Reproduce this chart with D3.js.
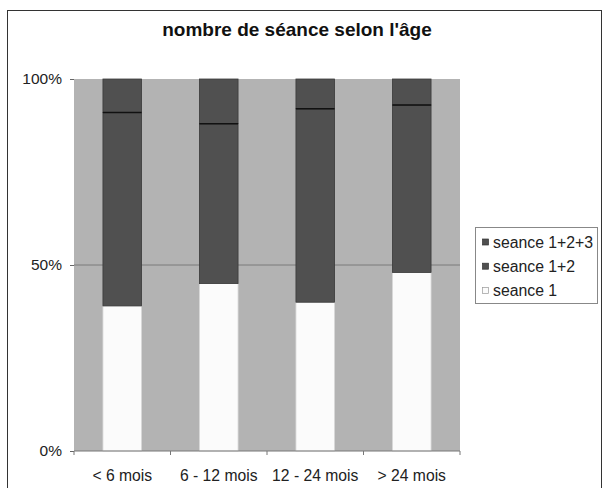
<!DOCTYPE html>
<html><head><meta charset="utf-8">
<script src="https://cdn.jsdelivr.net/npm/d3@7"></script>
<style>body{margin:0;background:#fff;} text{font-family:"Liberation Sans",Arial,sans-serif;}</style>
</head><body>
<svg id="c" width="605" height="488"></svg>
<script>
const categories = ["< 6 mois", "6 - 12 mois", "12 - 24 mois", "> 24 mois"];
const seriesNames = ["seance 1", "seance 1+2", "seance 1+2+3"];
const seance1 = [39, 45, 40, 48];
const seance12 = [52, 43, 52, 45];
const seance123 = [9, 12, 8, 7];
const yTicks = [0, 50, 100];
const colors = ["#fbfbfb", "#505050", "#505050"];

const svg = d3.select("#c");
svg.append("rect").attr("x",7.5).attr("y",10.5).attr("width",594).attr("height",490)
  .attr("fill","#fff").attr("stroke","#333").attr("stroke-width",1);

const m = {l:74, r:460, t:79, b:451};
const x = d3.scaleBand().domain(categories).range([m.l, m.r]).paddingInner(0.6).paddingOuter(0.3);
const xb = d3.scaleBand().domain(categories).range([m.l, m.r]);
const y = d3.scaleLinear().domain([0,100]).range([m.b, m.t]);

svg.append("rect").attr("x",m.l).attr("y",m.t).attr("width",m.r-m.l).attr("height",m.b-m.t).attr("fill","#b3b3b3");

// gridline
svg.append("line").attr("x1",m.l).attr("x2",m.r).attr("y1",y(50)).attr("y2",y(50)).attr("stroke","#7a7a7a").attr("stroke-width",1);

const data = categories.map((c,i)=>({cat:c, "seance 1":seance1[i], "seance 1+2":seance12[i], "seance 1+2+3":seance123[i]}));
const stack = d3.stack().keys(seriesNames)(data);
stack.forEach((s,k)=>{
  svg.append("g").selectAll("rect").data(s).join("rect")
    .attr("x", d=>x(d.data.cat)).attr("width", x.bandwidth())
    .attr("y", d=>y(d[1])).attr("height", d=>y(d[0])-y(d[1]))
    .attr("fill", colors[k]).attr("stroke", k===0 ? "#d8d8d8" : "#3a3a3a").attr("stroke-width",0.8);
});
// separator line between 1+2 and 1+2+3
svg.append("g").selectAll("line").data(stack[1]).join("line")
  .attr("x1", d=>x(d.data.cat)).attr("x2", d=>x(d.data.cat)+x.bandwidth())
  .attr("y1", d=>y(d[1])).attr("y2", d=>y(d[1])).attr("stroke","#111").attr("stroke-width",1.5);

// axes
const yAxis = d3.axisLeft(y).tickValues(yTicks).tickFormat(d=>d+"%").tickSize(4).tickPadding(8);
const gy = svg.append("g").attr("transform",`translate(${m.l},0)`).call(yAxis);
gy.select(".domain").remove();
gy.selectAll("line").attr("stroke","#666");
gy.selectAll("text").attr("font-size",15.5).attr("fill","#222").attr("font-family","Liberation Sans, Arial, sans-serif");

const gx = svg.append("g").attr("transform",`translate(0,${m.b})`);
gx.append("line").attr("x1",m.l).attr("x2",m.r).attr("stroke","#777");
gx.selectAll("line.t").data(d3.range(categories.length+1)).join("line").attr("class","t")
  .attr("x1", i=>m.l+i*xb.step()).attr("x2", i=>m.l+i*xb.step()).attr("y1",0).attr("y2",4).attr("stroke","#777");
gx.selectAll("text").data(categories).join("text")
  .attr("x", d=>xb(d)+xb.bandwidth()/2).attr("y",30).attr("text-anchor","middle")
  .attr("font-size",15.7).attr("fill","#222").text(d=>d);

// title
svg.append("text").attr("x",297).attr("y",36).attr("text-anchor","middle")
  .attr("font-size",19).attr("font-weight","bold").attr("fill","#111").text("nombre de séance selon l'âge");

// legend
const lg = svg.append("g");
lg.append("rect").attr("x",475.5).attr("y",227.5).attr("width",122).attr("height",76).attr("fill","#fff").attr("stroke","#888");
const legendItems = seriesNames.slice().reverse();
const legendColors = colors.slice().reverse();
legendItems.forEach((n,i)=>{
  const yy = 242 + i*24.2;
  lg.append("rect").attr("x",482.5).attr("y",yy-3).attr("width",6).attr("height",6)
    .attr("fill",legendColors[i]).attr("stroke", i===2 ? "#999" : "#333").attr("stroke-width",0.7);
  lg.append("text").attr("x",493).attr("y",yy+5.5).attr("font-size",15.8).attr("fill","#222").text(n);
});
</script>
</body></html>
